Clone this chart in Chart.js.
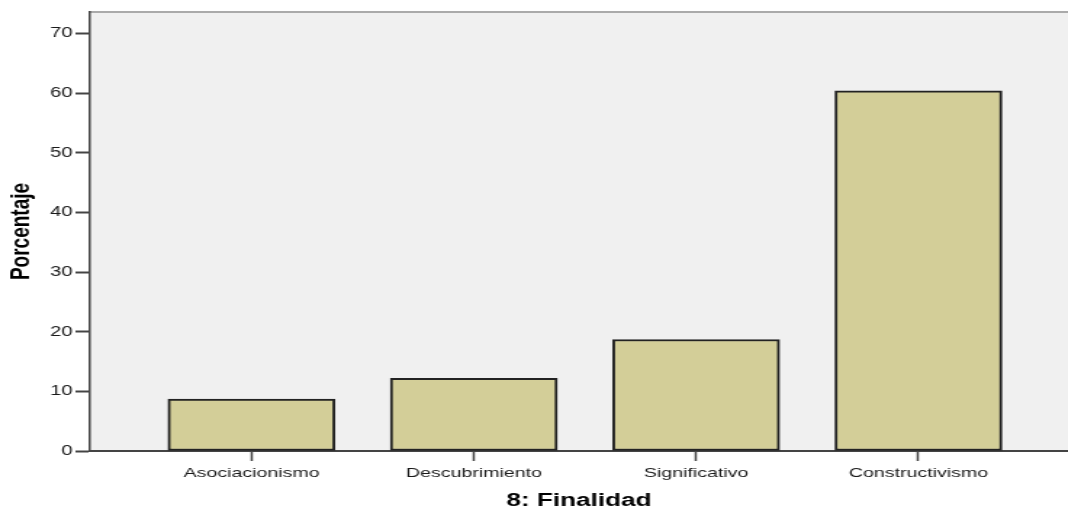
<!DOCTYPE html>
<html lang="es">
<head>
    <meta charset="UTF-8">
    <title>8: Finalidad</title>
    <script src="https://cdn.jsdelivr.net/npm/chart.js@4/dist/chart.umd.min.js"></script>
    <style>
        body {
            margin: 0;
            background-color: #ffffff;
            overflow: hidden;
        }
        /* the original export is stretched sideways, so the canvas is drawn
           narrower and widened back to 1068px */
        #finalidadChart {
            display: block;
            transform: scaleX(1.451);
            transform-origin: 0 0;
        }
    </style>
</head>
<body>
    <canvas id="finalidadChart" width="736" height="508"></canvas>

    <script>
        const categories = ['Asociacionismo', 'Descubrimiento', 'Significativo', 'Constructivismo'];
        const percentages = [8.7, 12.2, 18.7, 60.4];
        const yTicks = [0, 10, 20, 30, 40, 50, 60, 70];

        const axisColor = '#444444';

        const plotBackground = {
            id: 'plotBackground',
            beforeDraw(chart) {
                const { ctx, chartArea } = chart;
                ctx.save();
                ctx.fillStyle = '#f0f0f0';
                ctx.fillRect(chartArea.left, chartArea.top, chartArea.right - chartArea.left, chartArea.bottom - chartArea.top);
                ctx.strokeStyle = '#aaaaaa';
                ctx.lineWidth = 2;
                ctx.beginPath();
                ctx.moveTo(chartArea.left, chartArea.top);
                ctx.lineTo(chartArea.right, chartArea.top);
                ctx.stroke();
                ctx.restore();
            }
        };

        const ctx = document.getElementById('finalidadChart').getContext('2d');
        new Chart(ctx, {
            type: 'bar',
            data: {
                datasets: [{
                    label: 'Porcentaje',
                    data: categories.map((name, i) => ({ x: i, y: percentages[i] })),
                    backgroundColor: '#d3ce98',
                    borderColor: '#222222',
                    borderWidth: 2,
                    borderSkipped: false,
                    barThickness: 115
                }]
            },
            options: {
                responsive: false,
                animation: false,
                devicePixelRatio: 1,
                layout: {
                    padding: { top: 12, right: 0, bottom: 0, left: 0 }
                },
                plugins: {
                    legend: { display: false },
                    tooltip: { enabled: false }
                },
                scales: {
                    x: {
                        type: 'linear',
                        offset: false,
                        min: -0.7264,
                        max: 3.6724,
                        afterBuildTicks: scale => {
                            scale.ticks = categories.map((name, i) => ({ value: i }));
                        },
                        afterFit: scale => {
                            scale.height = 57;
                        },
                        border: { color: axisColor, width: 2 },
                        grid: {
                            offset: false,
                            drawOnChartArea: false,
                            tickLength: 10,
                            tickColor: axisColor,
                            tickWidth: 1.5
                        },
                        ticks: {
                            padding: 4,
                            autoSkip: false,
                            maxRotation: 0,
                            color: '#1a1a1a',
                            font: { family: 'Liberation Sans', size: 13.5 },
                            callback: value => categories[value]
                        },
                        title: {
                            display: true,
                            text: '8: Finalidad',
                            color: '#000000',
                            padding: { top: 0, bottom: 0 },
                            font: { family: 'Liberation Sans', size: 18, weight: 'bold', lineHeight: 0.8 }
                        }
                    },
                    y: {
                        min: 0,
                        max: 73.6,
                        afterBuildTicks: scale => {
                            scale.ticks = yTicks.map(v => ({ value: v }));
                        },
                        afterFit: scale => {
                            scale.width = 62;
                        },
                        border: { color: axisColor, width: 1.5 },
                        grid: {
                            drawOnChartArea: false,
                            tickLength: 10,
                            tickColor: axisColor,
                            tickWidth: 2
                        },
                        ticks: {
                            padding: 2,
                            color: '#1a1a1a',
                            font: { family: 'Liberation Sans', size: 14 }
                        },
                        title: {
                            display: true,
                            text: 'Porcentaje',
                            color: '#000000',
                            padding: { top: 3, bottom: 0 },
                            font: { family: 'Liberation Sans', size: 19, weight: 'bold' }
                        }
                    }
                }
            },
            plugins: [plotBackground]
        });
    </script>
</body>
</html>
